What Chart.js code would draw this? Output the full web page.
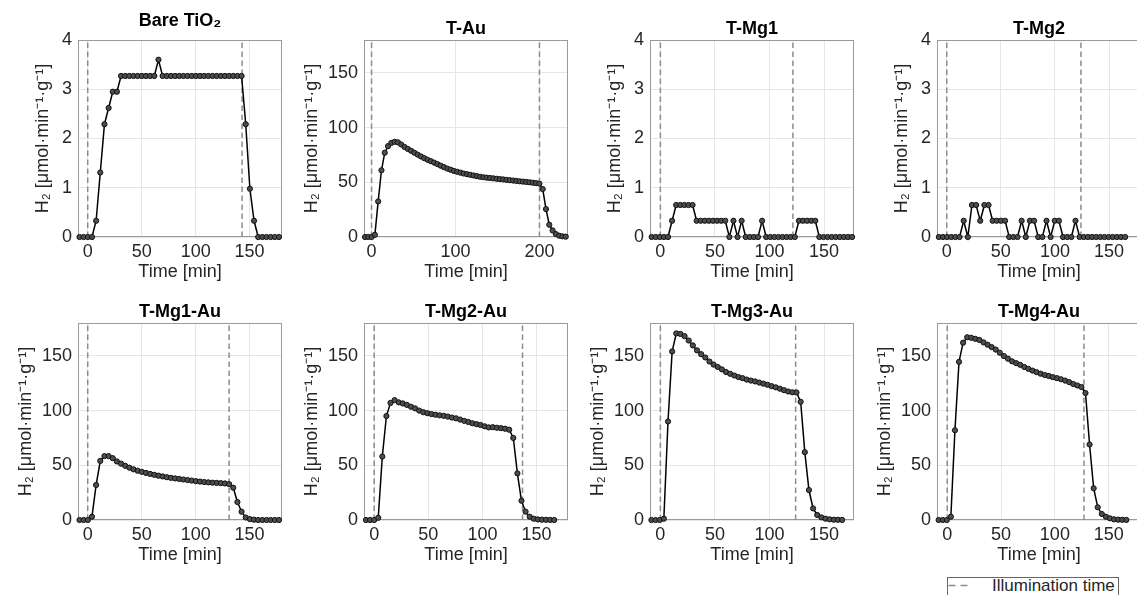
<!DOCTYPE html>
<html>
<head>
<meta charset="utf-8">
<script src="https://cdn.jsdelivr.net/npm/chart.js@4.4.1/dist/chart.umd.min.js"></script>
<style>
  html, body { margin: 0; padding: 0; background: #fff; overflow: hidden; width: 1137px; height: 595px; position: relative; }
  canvas { position: absolute; }
  #legend { position: absolute; left: 947px; top: 577px; width: 170px; height: 24px; border: 1px solid #666; background: #fff;
            font-family: 'Liberation Sans', Arial, Helvetica, sans-serif; font-size: 17px; color: #262626; }
  #legend svg { position: absolute; left: 0; top: 0; }
  #legend span { position: absolute; left: 44px; top: -2px; line-height: 20px; white-space: nowrap; }
</style>
</head>
<body>
<div id="legend"><svg width="30" height="16"><line x1="0.5" y1="7.5" x2="20" y2="7.5" stroke="#8c8c8c" stroke-width="1.5" stroke-dasharray="7 5"/></svg><span>Illumination time</span></div>
<script>
// ---------- data ----------
const panelTitles = ['Bare TiO₂', 'T-Au', 'T-Mg1', 'T-Mg2', 'T-Mg1-Au', 'T-Mg2-Au', 'T-Mg3-Au', 'T-Mg4-Au'];
const yLabel = 'H₂ [μmol·min⁻¹·g⁻¹]';
const xLabel = 'Time [min]';
const legendLabel = 'Illumination time';

// sampling grid of each measurement (first sample time, sampling interval, in min)
const timeStart = [-7.6, -7.8, -8, -7.3, -7.6, -7.6, -8.2, -8];
const timeStep  = [3.85, 3.92, 3.75, 3.826, 3.85, 3.78, 3.8, 3.79];

// illumination on / off (min)
const illumStart = [0, 0, 0, 0, 0, 0, 0, 0];
const illumEnd   = [143, 200, 121.5, 124, 131, 137, 124, 127];

// axis limits and tick steps
const xMin  = [-9, -9, -9.5, -9, -9, -9.4, -9.5, -9.5];
const xMax  = [180, 234, 177.5, 179.5, 180, 179, 177.5, 180];
const xStep = [50, 100, 50, 50, 50, 50, 50, 50];
const yMin  = [0, 0, 0, 0, 0, 0, 0, 0];
const yMax  = [4, 180, 4, 4, 180, 180, 180, 180];
const yStep = [1, 50, 1, 1, 50, 50, 50, 50];

// H2 evolution rate [umol min-1 g-1]
const h2BareTiO2 = [0,0,0,0,0.33,1.31,2.29,2.62,2.95,2.95,
  3.27,3.27,3.27,3.27,3.27,3.27,3.27,3.27,3.27,3.6,
  3.27,3.27,3.27,3.27,3.27,3.27,3.27,3.27,3.27,3.27,
  3.27,3.27,3.27,3.27,3.27,3.27,3.27,3.27,3.27,3.27,
  2.29,0.98,0.33,0,0,0,0,0,0];
const h2TAu = [0,0,0,2,32.5,61,77,83,86,87,86.5,84.5,
  82.3,80.5,78.8,77.0,75.3,73.6,72.0,70.6,69.3,68.0,
  66.6,65.2,63.8,62.5,61.5,60.4,59.6,58.8,58.0,57.4,
  56.8,56.2,55.6,55.0,54.6,54.2,53.9,53.6,53.2,52.9,
  52.6,52.2,51.9,51.6,51.2,50.9,50.6,50.3,50.0,49.6,
  49.2,48.8,43.8,25.5,11.2,6,2.7,1.2,0.6,0.3];
const h2TMg1 = [0,0,0,0,0,0.33,0.65,0.65,0.65,0.65,
  0.65,0.33,0.33,0.33,0.33,0.33,0.33,0.33,0.33,0,
  0.33,0,0.33,0,0,0,0,0.33,0,0,
  0,0,0,0,0,0,0.33,0.33,0.33,0.33,
  0.33,0,0,0,0,0,0,0,0,0];
const h2TMg2 = [0,0,0,0,0,0,0.33,0,0.65,0.65,
  0.33,0.65,0.65,0.33,0.33,0.33,0.33,0,0,0,
  0.33,0,0.33,0.33,0,0,0.33,0,0.33,0.33,
  0,0,0,0.33,0,0,0,0,0,0,
  0,0,0,0,0,0];
const h2TMg1Au = [0,0,0,3,32,54,58.4,58.4,56.5,53.5,
  51.5,49.5,47.8,46.3,45.0,44.0,43.0,42.1,41.3,40.5,
  39.8,39.1,38.5,38.0,37.5,37.0,36.5,36.0,35.5,35.1,
  34.7,34.4,34.1,33.9,33.7,33.4,32.8,29.5,16.4,7.6,
  2.3,0.8,0.3,0,0,0,0,0,0];
const h2TMg2Au = [0,0,0,2,58,95,107,109.5,107.5,106.5,
  105.2,103.5,102,100,98.5,97.6,96.8,96.2,95.6,95.2,
  94.5,93.6,92.9,91.8,90.6,89.6,88.4,87.6,86.8,85.6,
  84.6,84.8,84.3,83.9,83.4,82.5,75,42.6,17.6,7.6,
  3,1.2,0.5,0.3,0.2,0.1,0];
const h2TMg3Au = [0,0,0,1.2,90,154,170.5,170,168,164,
  159.5,155,151.5,148.5,144.8,142,139.8,137.6,135.2,133.6,
  132,130.6,129.6,128.3,127.4,126.6,125.6,124.6,123.6,122.3,
  121.2,120,118.6,117.4,116.7,116.5,108,62,27.4,10.6,
  4.6,2.4,1.2,0.6,0.3,0.2,0.1];
const h2TMg4Au = [0,0,0,3,82,144.5,162,167,166.5,165.5,
  164.5,162.3,160.2,158,155.7,152.8,149.8,147.4,145,143.3,
  141.8,139.8,138.1,136.5,135.1,133.7,132.5,131.6,130.5,129.6,
  128.6,127.4,126,124.2,122.9,121.5,116,69,29,11.6,
  5.5,3,1.5,0.6,0.3,0.2,0.1];

const allSeries = [h2BareTiO2, h2TAu, h2TMg1, h2TMg2, h2TMg1Au, h2TMg2Au, h2TMg3Au, h2TMg4Au];

// ---------- layout / style ----------
const FONT = "'Liberation Sans', Arial, Helvetica, sans-serif";
Chart.defaults.font.family = FONT;
Chart.defaults.font.size = 18;
Chart.defaults.color = '#262626';

const boxLefts = [78, 364, 650, 937];
const boxTops = [40, 323];
const BOX_W = 207, BOX_H = 197, Y_AXIS_W = 78, TITLE_H = 40, X_AXIS_H = 50, RIGHT_PAD = 2;

const axesBox = {
  id: 'axesBox',
  beforeDatasetsDraw(chart) {
    const { ctx, chartArea: a } = chart;
    ctx.save();
    ctx.strokeStyle = '#9a9a9a';
    ctx.lineWidth = 1;
    ctx.strokeRect(a.left + 0.5, a.top + 0.5, a.right - a.left - 1, a.bottom - a.top - 1);
    ctx.restore();
  }
};

allSeries.forEach((vals, p) => {
  const col = p % 4, row = Math.floor(p / 4);
  const w = Y_AXIS_W + BOX_W + RIGHT_PAD, h = TITLE_H + BOX_H + X_AXIS_H;
  const cv = document.createElement('canvas');
  cv.width = w; cv.height = h;
  cv.style.width = w + 'px'; cv.style.height = h + 'px';
  cv.style.left = (boxLefts[col] - Y_AXIS_W) + 'px';
  cv.style.top = (boxTops[row] - TITLE_H) + 'px';
  document.body.appendChild(cv);

  const pts = vals.map((v, i) => ({ x: +(timeStart[p] + i * timeStep[p]).toFixed(2), y: v }));
  const titleTop = p === 0 ? 12 : 20;
  const smallRange = yMax[p] < 10;

  const dashed = (xv) => ({
    label: legendLabel,
    data: [{ x: xv, y: yMin[p] }, { x: xv, y: yMax[p] }],
    borderColor: '#8c8c8c', borderWidth: 1.5, borderDash: [5.5, 3.5],
    pointRadius: 0, fill: false, tension: 0
  });

  new Chart(cv, {
    type: 'line',
    data: {
      datasets: [
        {
          label: panelTitles[p],
          data: pts,
          borderColor: '#000', borderWidth: 1.5, tension: 0, fill: false,
          pointRadius: 2.6, pointBorderWidth: 1,
          pointBackgroundColor: '#4d4d4d', pointBorderColor: '#111',
          clip: false
        },
        dashed(illumStart[p]),
        dashed(illumEnd[p])
      ]
    },
    options: {
      responsive: false,
      animation: false,
      devicePixelRatio: 1,
      layout: { padding: { left: 0, right: RIGHT_PAD, top: 0, bottom: 0 } },
      plugins: {
        legend: { display: false },
        tooltip: { enabled: false },
        title: {
          display: true, text: panelTitles[p], color: '#000', fullSize: false, align: 'center',
          font: { size: 18, weight: 'bold', lineHeight: 1 },
          padding: { top: titleTop, bottom: TITLE_H - 18 - titleTop }
        }
      },
      scales: {
        x: {
          type: 'linear', min: xMin[p], max: xMax[p],
          ticks: { stepSize: xStep[p], autoSkip: false, includeBounds: false, maxRotation: 0,
                   padding: 4, color: '#262626', font: { size: 18 } },
          grid: { color: '#e6e6e6', drawTicks: false, lineWidth: 1 },
          border: { display: false },
          title: { display: true, text: xLabel, color: '#262626', font: { size: 18, lineHeight: 1.2 },
                   padding: { top: 0, bottom: 3.7 } },
          afterFit: (s) => { s.height = X_AXIS_H; }
        },
        y: {
          type: 'linear', min: yMin[p], max: yMax[p],
          ticks: { stepSize: yStep[p], autoSkip: false, includeBounds: false,
                   padding: 6, color: '#262626', font: { size: 18 } },
          grid: { color: '#e6e6e6', drawTicks: false, lineWidth: 1 },
          border: { display: false },
          title: { display: true, text: yLabel, color: '#262626', font: { size: 18, lineHeight: 1.2 },
                   padding: { top: smallRange ? 32.2 : 15.6, bottom: 0 } },
          afterFit: (s) => { s.width = Y_AXIS_W; }
        }
      }
    },
    plugins: [axesBox]
  });
});
</script>
</body>
</html>
